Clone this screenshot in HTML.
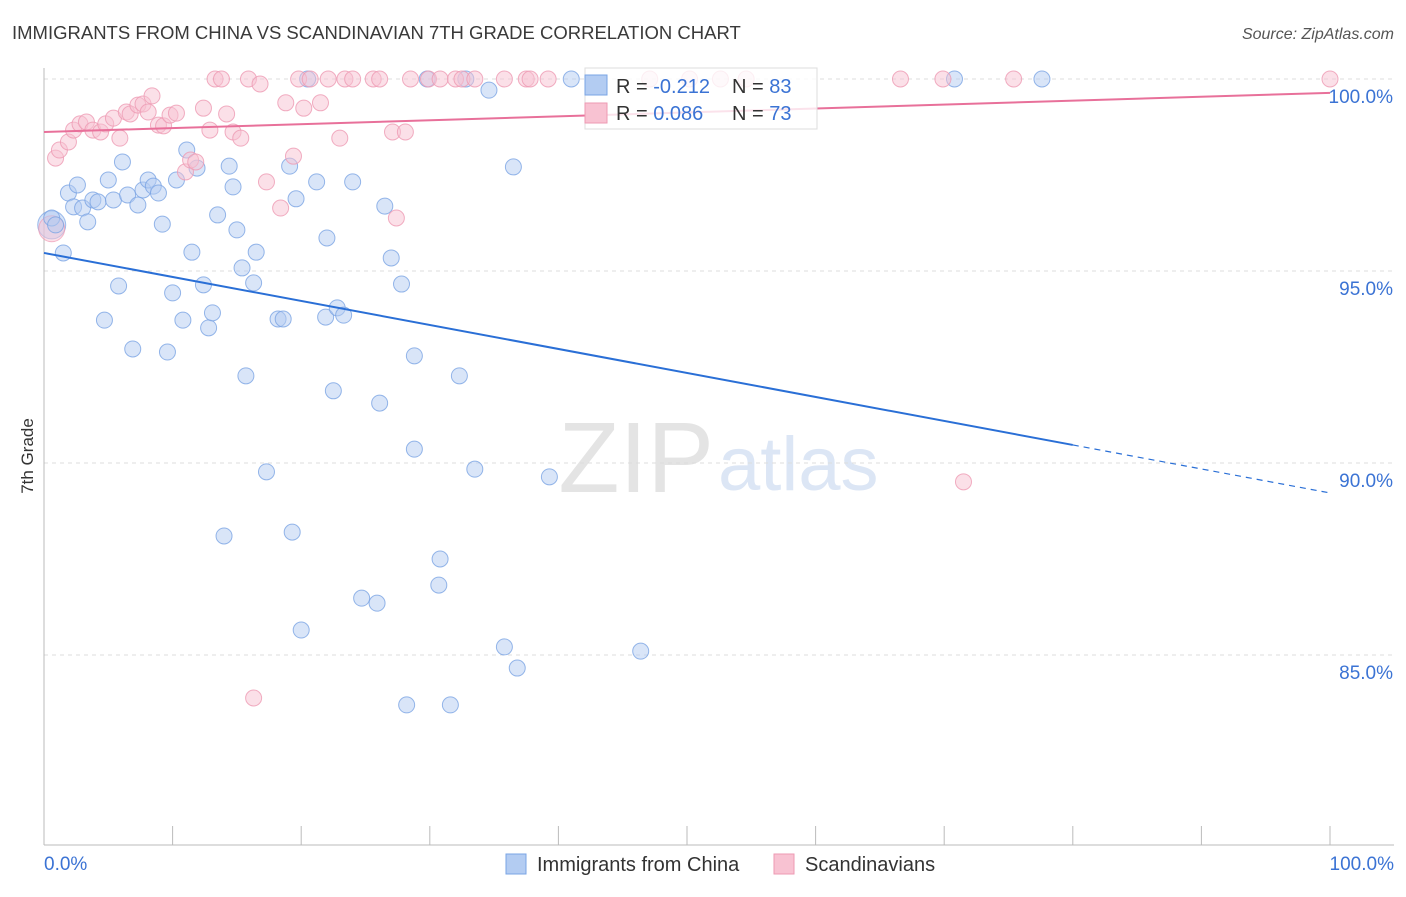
<!DOCTYPE html>
<html><head><meta charset="utf-8"><style>
body{margin:0;background:#fff;font-family:"Liberation Sans",sans-serif;}
svg text{font-family:"Liberation Sans",sans-serif;}
</style></head><body>
<svg id="chart" width="1406" height="892">
<text x="12" y="39" font-size="18.5" fill="#3a3a3a">IMMIGRANTS FROM CHINA VS SCANDINAVIAN 7TH GRADE CORRELATION CHART</text>
<text x="1394" y="39" font-size="16" fill="#555" text-anchor="end" font-style="italic">Source: ZipAtlas.com</text>
<text x="714" y="492" font-size="100" fill="#e4e4e4" font-family="Liberation Serif" text-anchor="end">ZIP</text>
<text x="718" y="490" font-size="76" fill="#dce6f5">atlas</text>
<g id="grid"></g><g id="axes"></g><g id="pts"></g><g id="lines"></g>
<text transform="translate(33,456) rotate(-90)" font-size="17" fill="#333" text-anchor="middle">7th Grade</text>
<g>
<rect x="585" y="68" width="232" height="61" fill="#fff" fill-opacity="0.8" stroke="#ddd"/>
<rect x="585" y="75" width="22" height="20" fill="#b3ccf2" stroke="#7aa4e4"/>
<rect x="585" y="103" width="22" height="20" fill="#f8c2d2" stroke="#ee9ab3"/>
<text x="616" y="93" font-size="20" fill="#333">R = <tspan fill="#3b73d4">-0.212</tspan><tspan x="732">N = </tspan><tspan fill="#3b73d4">83</tspan></text>
<text x="616" y="120" font-size="20" fill="#333">R = <tspan fill="#3b73d4"> 0.086</tspan><tspan x="732">N = </tspan><tspan fill="#3b73d4">73</tspan></text>
</g>
<g>
<rect x="506" y="854" width="20" height="20" fill="#b3ccf2" stroke="#7aa4e4"/>
<text x="537" y="871" font-size="20" fill="#333">Immigrants from China</text>
<rect x="774" y="854" width="20" height="20" fill="#f8c2d2" stroke="#ee9ab3"/>
<text x="805" y="871" font-size="20" fill="#333">Scandinavians</text>
</g>
</svg>
<script>
const yTicks=[100,95,90,85];
const yTickLabels=["100.0%","95.0%","90.0%","85.0%"];
const xTickLabels=["0.0%","100.0%"];
const chinaX=[0.6,0.9,1.5,1.9,2.3,2.6,3.0,3.4,3.8,4.2,4.7,5.0,5.4,5.8,6.1,6.5,6.9,7.3,7.7,8.1,8.5,8.9,9.2,9.6,10.0,10.3,10.8,11.1,11.5,11.9,12.4,12.8,13.1,13.5,14.0,14.4,14.7,15.0,15.4,15.7,16.3,16.5,17.3,18.2,18.6,19.1,19.3,19.6,20.0,20.5,21.2,21.9,22.0,22.5,22.8,23.3,24.0,24.7,25.9,26.1,26.5,27.0,27.8,28.2,28.8,28.8,29.8,30.7,30.8,31.6,32.3,32.8,33.5,34.6,35.8,36.5,36.8,39.3,41.0,46.4,70.8,77.6];
const chinaY=[96.38,96.2,95.47,97.03,96.67,97.24,96.64,96.28,96.85,96.8,93.72,97.37,96.85,94.61,97.84,96.98,92.97,96.72,97.11,97.37,97.21,97.03,96.22,92.89,94.43,97.37,93.72,98.15,95.49,97.68,94.64,93.52,93.91,96.46,88.1,97.73,97.19,96.07,95.08,92.27,94.69,95.49,89.77,93.75,93.75,97.73,88.2,96.88,85.65,100,97.32,93.8,95.86,91.88,94.04,93.85,97.32,86.48,86.35,91.56,96.69,95.34,94.66,83.7,92.79,90.36,100,86.82,87.5,83.7,92.27,100,89.84,99.71,85.21,97.71,84.66,89.64,100,85.1,100,100];
const scanX=[0.9,1.2,1.9,2.3,2.8,3.3,3.8,4.4,4.8,5.4,5.9,6.4,6.7,7.3,7.7,8.1,8.4,8.9,9.3,9.8,10.3,11.0,11.4,11.8,12.4,12.9,13.3,13.8,14.2,14.7,15.3,15.9,16.3,16.8,17.3,18.4,18.8,19.4,19.8,20.2,20.7,21.5,22.1,23.0,23.4,24.0,25.6,26.1,27.1,27.4,28.1,28.5,29.9,30.8,32.0,32.5,33.5,35.8,37.5,37.8,39.2,47.1,50.2,52.6,54.6,66.6,69.9,71.5,75.4,100];
const scanY=[97.94,98.15,98.36,98.67,98.83,98.88,98.67,98.62,98.83,98.98,98.46,99.14,99.09,99.32,99.35,99.14,99.56,98.8,98.78,99.06,99.11,97.58,97.89,97.84,99.24,98.67,100,100,99.09,98.62,98.46,100,83.88,99.87,97.32,96.64,99.38,97.99,100,99.24,100,99.38,100,98.46,100,100,100,100,98.62,96.38,98.62,100,100,100,100,100,100,100,100,100,100,100,100,100,100,100,100,89.51,100,100];
const chinaTrend=[95.47,89.22];
const scanTrend=[98.62,99.64];
const NS="http://www.w3.org/2000/svg";
const X=v=>44+v*12.86, Y=v=>79+(100-v)*38.4;
function mk(tag,attrs,parent){const e=document.createElementNS(NS,tag);for(const k in attrs)e.setAttribute(k,attrs[k]);document.getElementById(parent).appendChild(e);return e;}
yTicks.forEach((t,i)=>{
 const g=mk('line',{x1:44,x2:1394,y1:Y(t),y2:Y(t),stroke:'#ddd','stroke-dasharray':'4,4'},'grid');
 
 
 const l=mk('text',{x:1393,y:Y(t)+24,'font-size':19,fill:'#3b73d4','text-anchor':'end'},'axes');
 l.textContent=yTickLabels[i];
 
 
});
const a1=mk('line',{x1:44,x2:44,y1:68,y2:845,stroke:'#bbb'},'axes');


const a2=mk('line',{x1:44,x2:1394,y1:845,y2:845,stroke:'#bbb'},'axes');


for(let i=0;i<=10;i++){const t=mk('line',{x1:X(i*10),x2:X(i*10),y1:826,y2:845,stroke:'#bbb'},'axes');
 
 }
[[0,'start',44],[100,'end',1394]].forEach((d,i)=>{const t=mk('text',{x:d[2],y:870,'font-size':19,fill:'#3b73d4','text-anchor':d[1]},'axes');t.textContent=xTickLabels[i];
 
 });
const big1=mk('circle',{cx:X(0.6),cy:Y(96.2),r:14,fill:'#b3ccf2','fill-opacity':0.5,stroke:'#7aa4e4','stroke-opacity':0.7},'pts');


const big2=mk('circle',{cx:X(0.6),cy:Y(96.1),r:13,fill:'#f8c2d2','fill-opacity':0.5,stroke:'#ee9ab3','stroke-opacity':0.7},'pts');


chinaX.forEach((x,i)=>{const c=mk('circle',{cx:X(x),cy:Y(chinaY[i]),r:8,fill:'#b3ccf2','fill-opacity':0.5,stroke:'#7aa4e4','stroke-opacity':0.8},'pts');
 
 });
scanX.forEach((x,i)=>{const c=mk('circle',{cx:X(x),cy:Y(scanY[i]),r:8,fill:'#f8c2d2','fill-opacity':0.5,stroke:'#ee9ab3','stroke-opacity':0.8},'pts');
 
 });
const cy=x=>chinaTrend[0]+(chinaTrend[1]-chinaTrend[0])*x/100;
const l1=mk('line',{x1:X(0),y1:Y(cy(0)),x2:X(80),y2:Y(cy(80)),stroke:'#2a6fd6','stroke-width':2},'lines');


const l2=mk('line',{x1:X(80),y1:Y(cy(80)),x2:X(100),y2:Y(cy(100)),stroke:'#2a6fd6','stroke-width':1.2,'stroke-dasharray':'6,5'},'lines');


const l3=mk('line',{x1:X(0),y1:Y(scanTrend[0]),x2:X(100),y2:Y(scanTrend[1]),stroke:'#e8709a','stroke-width':2},'lines');


</script>
</body></html>
